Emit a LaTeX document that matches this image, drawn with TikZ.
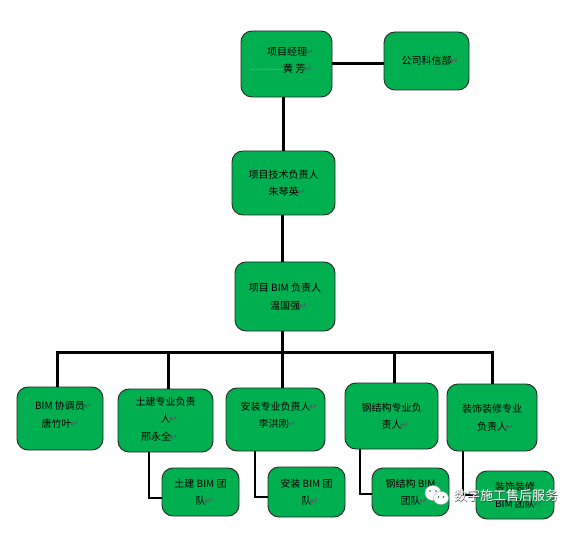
\documentclass[tikz,border=0pt]{standalone}
\usepackage{fontspec}
\setmainfont{Noto Sans CJK SC}
\newfontfamily\retfont{DejaVu Sans}
\definecolor{boxgreen}{HTML}{00B050}
\definecolor{retgray}{HTML}{5F4F68}
\newcommand{\ret}{\makebox[7pt][r]{\textcolor{retgray}{\retfont\fontsize{10}{10}\selectfont ↵}}}
\newcommand{\lead}{\hspace{7pt}}
\newcommand{\pad}{\mbox{}}
\begin{document}
\begin{tikzpicture}[x=1pt, y=-1pt,
  box/.style={draw=black!85,line width=0.9pt,fill=boxgreen,rounded corners=11pt,inner sep=0pt,align=center,font={\fontsize{10}{17.5}\selectfont},execute at begin node={\pad\\[-14pt]}},
  link/.style={line width=3pt,black},
  elbow/.style={line width=2.5pt,black,line join=miter}]
  \useasboundingbox (0,0) rectangle (586,537);
  % Upper chain
  \node[box,minimum width=91pt,minimum height=66pt] (pm) at (286.5,64) {\hspace{8pt}项目经理\ret\\\raisebox{2.5pt}{\textcolor{retgray!50!boxgreen!60!white}{............}}黄 芳\ret\hspace{11pt}\pad\\[-9pt]\pad};
  \node[box,minimum width=85pt,minimum height=58pt] (dept) at (426.5,61) {\lead 公司科信部\ret};
  \node[box,minimum width=103pt,minimum height=64pt] (tech) at (283.5,183) {项目技术负责人\\\lead 朱琴英\ret};
  \node[box,minimum width=100pt,minimum height=69pt] (bim) at (285,296.5) {项目 BIM 负责人\\\lead 温国强\ret};
  % Second row
  \node[box,minimum width=86pt,minimum height=63pt] (coord) at (60,418.5) {\lead BIM 协调员\ret\\唐竹叶\ret\\[-9pt]\pad};
  \node[box,minimum width=95pt,minimum height=63pt] (civil) at (165.5,420.5) {\pad\\[-12pt]土建专业负责\\\lead 人\ret\\邢永全\ret\hspace{12pt}\pad};
  \node[box,minimum width=99pt,minimum height=63pt] (mep) at (275.5,419.5) {\lead 安装专业负责人\ret\\\hspace{3pt}李洪刚\ret\\[-8pt]\pad};
  \node[box,minimum width=93pt,minimum height=66pt] (steel) at (391.5,416) {钢结构专业负\\\lead 责人\ret};
  \node[box,minimum width=90pt,minimum height=67pt] (deco) at (492,417.5) {装饰装修专业\\\lead 负责人\ret};
  % Teams
  \node[box,minimum width=77pt,minimum height=48pt] (civilteam) at (200.5,492) {土建 BIM 团\\\lead 队\ret};
  \node[box,minimum width=77pt,minimum height=50pt] (mepteam) at (306.5,492) {安装 BIM 团\\\lead 队\ret};
  \node[box,minimum width=77pt,minimum height=48pt] (steelteam) at (410.5,492) {钢结构 BIM\\\lead 团队\ret};
  \node[box,minimum width=78pt,minimum height=48pt] (decoteam) at (515,495) {装饰装修\\\lead BIM 团队\ret};
  % Bus bar
  \coordinate (busa) at (57,352);
  \coordinate (busb) at (168,352);
  \coordinate (busc) at (282,352);
  \coordinate (busd) at (394,352);
  \coordinate (buse) at (492,352);
  \draw[link] (pm.east) -- (pm.east -| dept.west);
  \draw[link] (tech.north |- pm.south) -- (tech.north);
  \draw[link] (busc |- tech.south) -- (busc |- bim.north);
  \draw[link] (busc |- bim.south) -- (busc |- mep.north);
  \draw[link] ([xshift=-1.5pt]busa) -- ([xshift=1.5pt]buse);
  \draw[link] (busa) -- (busa |- coord.north);
  \draw[link] (busb) -- (busb |- civil.north);
  \draw[link] (busd) -- (busd |- steel.north);
  \draw[link] (buse) -- (buse |- deco.north);
  % Team connectors
  \coordinate (civilbend) at (149,498);
  \coordinate (mepbend) at (255,497);
  \coordinate (steelbend) at (360,494);
  \coordinate (decobend) at (463,495);
  \draw[elbow] (civilbend |- civil.south) -- (civilbend) -- (civilbend -| civilteam.west);
  \draw[elbow] (mepbend |- mep.south) -- (mepbend) -- (mepbend -| mepteam.west);
  \draw[elbow] (steelbend |- steel.south) -- (steelbend) -- (steelbend -| steelteam.west);
  \draw[elbow] (decobend |- deco.south) -- (decobend) -- (decobend -| decoteam.west);
  % Watermark
  \fill[white,draw=black!35,line width=0.3pt] (433,493) ellipse (8 and 7.5);
  \fill[white,draw=black!35,line width=0.3pt] (441,498) ellipse (7.5 and 6.5);
  \fill[boxgreen!60!black] (430,491) circle (0.9) (436,491) circle (0.9) (438.5,497) circle (0.8) (443.5,497) circle (0.8);
  \node[font={\fontsize{13}{13}\selectfont},text=black!70] (markshadow) at (506.7,496.7) {数字施工售后服务};
  \node[font={\fontsize{13}{13}\selectfont},text=white] (mark) at (506,496) {数字施工售后服务};
\end{tikzpicture}
\end{document}
